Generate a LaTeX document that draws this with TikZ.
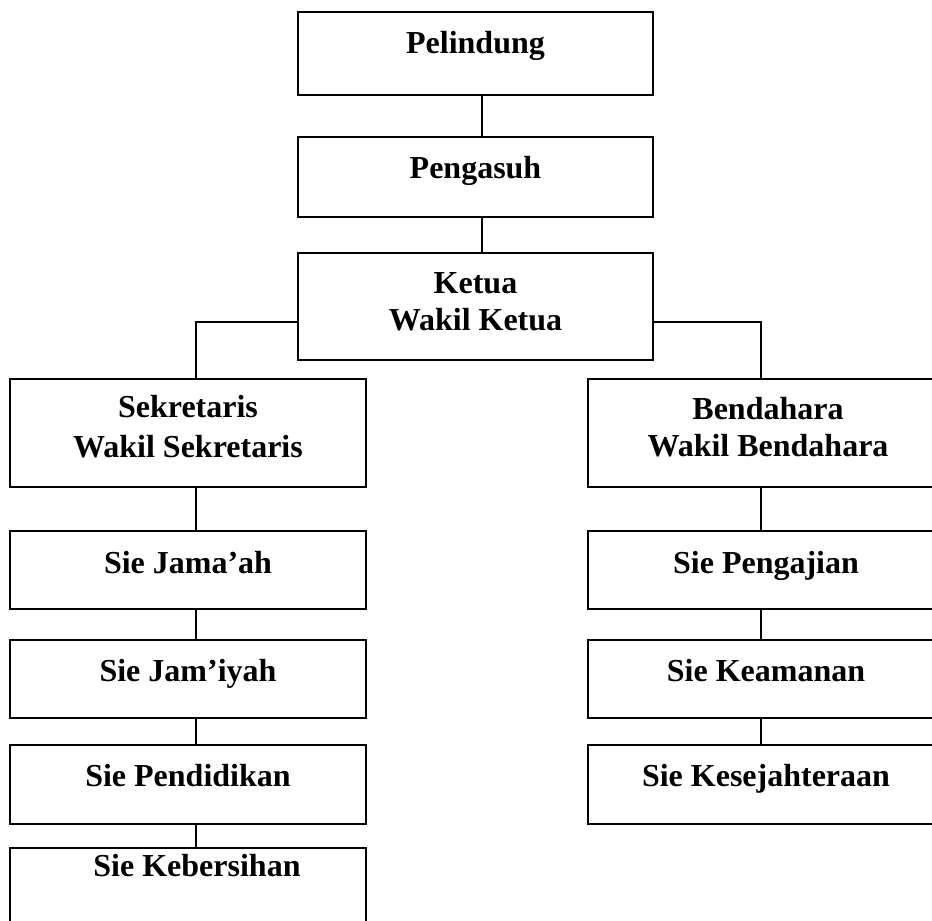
\documentclass[tikz,border=0pt]{standalone}
\usepackage{fontspec}
\setmainfont{Liberation Serif}
\begin{document}
\begin{tikzpicture}[x=1pt,y=-1pt,
  box/.style={draw=black,line width=1.5pt,rectangle,inner sep=0pt,minimum width=#1},
  box/.default=356pt,
  lbl/.style={anchor=base,inner sep=0pt,font=\fontsize{32}{37}\selectfont\bfseries},
  conn/.style={draw=black,line width=1.1pt}]
\useasboundingbox (0,0) rectangle (932,921);
\fill[white] (0,0) rectangle (932,921);
\clip (0,0) rectangle (932,921);
% boxes
\node[box=355pt,minimum height=83pt] (pel) at (475.5,53.5) {};
\node[box=355pt,minimum height=80pt] (peng) at (475.5,177) {};
\node[box=355pt,minimum height=107pt] (ket) at (475.5,306.5) {};
\node[box,minimum height=108pt] (sek) at (188,433) {};
\node[box,minimum height=108pt] (ben) at (766,433) {};
\node[box,minimum height=78pt] (jama) at (188,570) {};
\node[box,minimum height=78pt] (jamiy) at (188,679) {};
\node[box,minimum height=79pt] (pend) at (188,784.5) {};
\node[box,minimum height=80pt] (keb) at (188,888) {};
\node[box,minimum height=78pt] (penga) at (766,570) {};
\node[box,minimum height=78pt] (keam) at (766,679) {};
\node[box,minimum height=79pt] (kes) at (766,784.5) {};
% texts
\node[lbl] (tpel) at (475.5,53) {Pelindung};
\node[lbl] (tpeng) at (475.5,178) {Pengasuh};
\node[lbl] (tket1) at (475.5,293) {Ketua};
\node[lbl] (tket2) at (475.5,330) {Wakil Ketua};
\node[lbl] (tsek1) at (188,417) {Sekretaris};
\node[lbl] (tsek2) at (188,457) {Wakil Sekretaris};
\node[lbl] (tben1) at (768,419) {Bendahara};
\node[lbl] (tben2) at (768,456) {Wakil Bendahara};
\node[lbl] (tjama) at (188,573) {Sie Jama’ah};
\node[lbl] (tjamiy) at (188,681) {Sie Jam’iyah};
\node[lbl] (tpend) at (188,786) {Sie Pendidikan};
\node[lbl] (tkeb) at (197,876) {Sie Kebersihan};
\node[lbl] (tpenga) at (766,573) {Sie Pengajian};
\node[lbl] (tkeam) at (766,681) {Sie Keamanan};
\node[lbl] (tkes) at (766,786) {Sie Kesejahteraan};
% connector guides
\coordinate (cx) at (482,0);
\coordinate (lx) at (196,0);
\coordinate (rx) at (761,0);
\coordinate (ky) at (0,322);
% connectors
\draw[conn] (pel.south -| cx) -- (peng.north -| cx);
\draw[conn] (peng.south -| cx) -- (ket.north -| cx);
\draw[conn] (ket.west |- ky) -| (sek.north -| lx);
\draw[conn] (ket.east |- ky) -| (ben.north -| rx);
\draw[conn] (sek.south -| lx) -- (jama.north -| lx);
\draw[conn] (jama.south -| lx) -- (jamiy.north -| lx);
\draw[conn] (jamiy.south -| lx) -- (pend.north -| lx);
\draw[conn] (pend.south -| lx) -- (keb.north -| lx);
\draw[conn] (ben.south -| rx) -- (penga.north -| rx);
\draw[conn] (penga.south -| rx) -- (keam.north -| rx);
\draw[conn] (keam.south -| rx) -- (kes.north -| rx);
\end{tikzpicture}
\end{document}
